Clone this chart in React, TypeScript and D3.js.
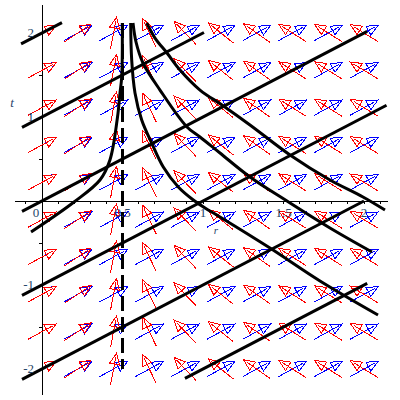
import React from "react";
import * as d3 from "d3";

// grid of the two direction fields (r across, t up)
const gridR = [0, 0.2222, 0.4444, 0.6667, 0.8889, 1.1111, 1.3333, 1.5556, 1.7778, 2];
const gridT = [2, 1.5556, 1.1111, 0.6667, 0.2222, -0.2222, -0.6667, -1.1111, -1.5556, -2];
// red field: dr/dt per column (read from arrow directions)
const redDrDt = [0.96, 0.78, 0.1, -0.25, -0.5, -0.65, -0.74, -0.83, -0.83, -0.86];
// blue field: constant direction (dr, dt)
const blueDir = [1, 1.05];

// straight characteristic lines t = r + c
const lineOffsets = [2, 1, 0, -1, -2, -3];
const lineStartR = [-0.13, -0.124, -0.124, -0.124, -0.124, 0.888];
const lineEndR = [0.124, 1.006, 2.02, 2.14, 2.0, 2.02];

// curved solution lines [r, t]
const curveLeft: [number, number][] = [
  [-0.068, -0.369], [0.199, -0.012], [0.36, 0.25], [0.422, 0.488],
  [0.469, 1.0], [0.4845, 1.286], [0.495, 1.476], [0.4988, 2.119],
];
const curveR1: [number, number][] = [
  [0.5509, 2.119], [0.5571, 1.679], [0.5776, 1.286], [0.6193, 0.964],
  [0.6814, 0.69], [0.7534, 0.405], [0.8466, 0.167], [0.9398, 0.012],
  [1.0124, -0.083], [1.1056, -0.19], [1.4161, -0.56], [1.7267, -0.952], [2.087, -1.357],
];
const curveR2: [number, number][] = [
  [0.5652, 2.119], [0.5839, 1.893], [0.6273, 1.643], [0.7329, 1.321],
  [0.9006, 0.881], [0.9814, 0.762], [1.1056, 0.571], [1.2919, 0.286],
  [1.5217, 0.0], [1.7888, -0.321], [2.0497, -0.607],
];
const curveR3: [number, number][] = [
  [0.6503, 2.119], [0.7019, 1.94], [0.7764, 1.762], [0.8571, 1.56],
  [0.9814, 1.321], [1.118, 1.143], [1.2919, 0.905], [1.5404, 0.548],
  [1.7888, 0.25], [1.9938, 0.048], [2.1304, -0.107],
];
const curves = [curveLeft, curveR1, curveR2, curveR3];

// dashed vertical line r = 0.5
const dashR = 0.5;
const dashT = [2.12, -2.0];

// axes
const axisR = [-0.168, 2.15];
const axisT = [-2.31, 2.33];
const xTickVals = d3.range(-1, 22).map((i) => i / 10);
const yTickVals = [-2, -1.5, -1, -0.5, 0.5, 1, 1.5, 2];
const xLabelVals = [0, 0.5, 1, 1.5, 2];
const xLabelText = ["0", "0.5", "1", "1.5", "2"];
const yLabelVals = [-2, -1, 1, 2];
const yLabelText = ["-2", "-1", "1", "2"];

const x = d3.scaleLinear().domain([0, 2]).range([42, 364]);
const y = d3.scaleLinear().domain([-2, 2]).range([369, 33]);

const ARROW_LEN = 32;
const HEAD_LEN = 11;
const HEAD_W = 5;

function Arrow({ r, t, dr, dt, color }: { r: number; t: number; dr: number; dt: number; color: string }) {
  const cx = x(r);
  const cy = y(t);
  const px = x(r + dr) - x(r);
  const py = y(t + dt) - y(t);
  const n = Math.hypot(px, py);
  const ux = px / n;
  const uy = py / n;
  const tx = cx - (ux * ARROW_LEN) / 2;
  const ty = cy - (uy * ARROW_LEN) / 2;
  const hx = cx + (ux * ARROW_LEN) / 2;
  const hy = cy + (uy * ARROW_LEN) / 2;
  const bx = hx - ux * HEAD_LEN;
  const by = hy - uy * HEAD_LEN;
  const sx = hx - ux * HEAD_LEN * 0.35;
  const sy = hy - uy * HEAD_LEN * 0.35;
  const nx = -uy;
  const ny = ux;
  const pts = [
    [hx, hy],
    [bx + nx * HEAD_W, by + ny * HEAD_W],
    [bx - nx * HEAD_W, by - ny * HEAD_W],
  ]
    .map((p) => p.map((v) => v.toFixed(2)).join(","))
    .join(" ");
  return (
    <g stroke={color} strokeWidth={1} fill="none" shapeRendering="crispEdges">
      <line x1={tx} y1={ty} x2={sx} y2={sy} />
      <polygon points={pts} strokeLinejoin="miter" />
    </g>
  );
}

export default function App() {
  const line = d3
    .line<[number, number]>()
    .x((d) => x(d[0]))
    .y((d) => y(d[1]))
    .curve(d3.curveCatmullRom.alpha(0.5));
  const fontFamily = "'Liberation Serif', 'Times New Roman', serif";
  const labelColor = "#28466a";
  return (
    <div style={{ position: "fixed", left: 0, top: 0 }}>
      <svg width={400} height={400} style={{ display: "block", background: "#fff" }}>
        {/* axes */}
        <g stroke="#000" strokeWidth={1} shapeRendering="crispEdges">
          <line x1={x(axisR[0])} x2={x(axisR[1])} y1={y(0)} y2={y(0)} />
          <line x1={x(0)} x2={x(0)} y1={y(axisT[0])} y2={y(axisT[1])} />
          {xTickVals.map((v) => (
            <line key={"xt" + v} x1={x(v)} x2={x(v)} y1={y(0)} y2={y(0) + 3} />
          ))}
          {yTickVals.map((v) => (
            <line key={"yt" + v} x1={x(0) - 3} x2={x(0)} y1={y(v)} y2={y(v)} />
          ))}
        </g>
        {/* blue field */}
        {gridR.map((r) =>
          gridT.map((t) => (
            <Arrow key={"b" + r + "_" + t} r={r} t={t} dr={blueDir[0]} dt={blueDir[1]} color="#0000ff" />
          ))
        )}
        {/* red field */}
        {gridR.map((r, i) =>
          gridT.map((t) => (
            <Arrow key={"r" + r + "_" + t} r={r} t={t} dr={redDrDt[i]} dt={1} color="#ff0000" />
          ))
        )}
        {/* straight lines and curves */}
        <g stroke="#000" strokeWidth={3} fill="none">
          {lineOffsets.map((c, i) => (
            <line
              key={"l" + c}
              x1={x(lineStartR[i])}
              y1={y(lineStartR[i] + c)}
              x2={x(lineEndR[i])}
              y2={y(lineEndR[i] + c)}
            />
          ))}
          {curves.map((cv, i) => (
            <path key={"c" + i} d={line(cv) || ""} />
          ))}
          <line
            x1={x(dashR)}
            x2={x(dashR)}
            y1={y(dashT[0])}
            y2={y(dashT[1])}
            strokeDasharray="15,6"
          />
        </g>
        {/* labels */}
        <g fontFamily={fontFamily} fontSize={13} fill={labelColor}>
          {xLabelVals.map((v, i) => (
            <text key={"xl" + v} x={v === 0 ? x(v) - 6 : x(v)} y={y(0) + 16} textAnchor="middle">
              {xLabelText[i]}
            </text>
          ))}
          {yLabelVals.map((v, i) => (
            <text key={"yl" + v} x={x(0) - 8} y={y(v) + 4} textAnchor="end">
              {yLabelText[i]}
            </text>
          ))}
          <text x={12} y={107} fontStyle="italic" textAnchor="middle">t</text>
          <text x={216} y={234} fontStyle="italic" textAnchor="middle" fontSize={11}>r</text>
        </g>
      </svg>
    </div>
  );
}
